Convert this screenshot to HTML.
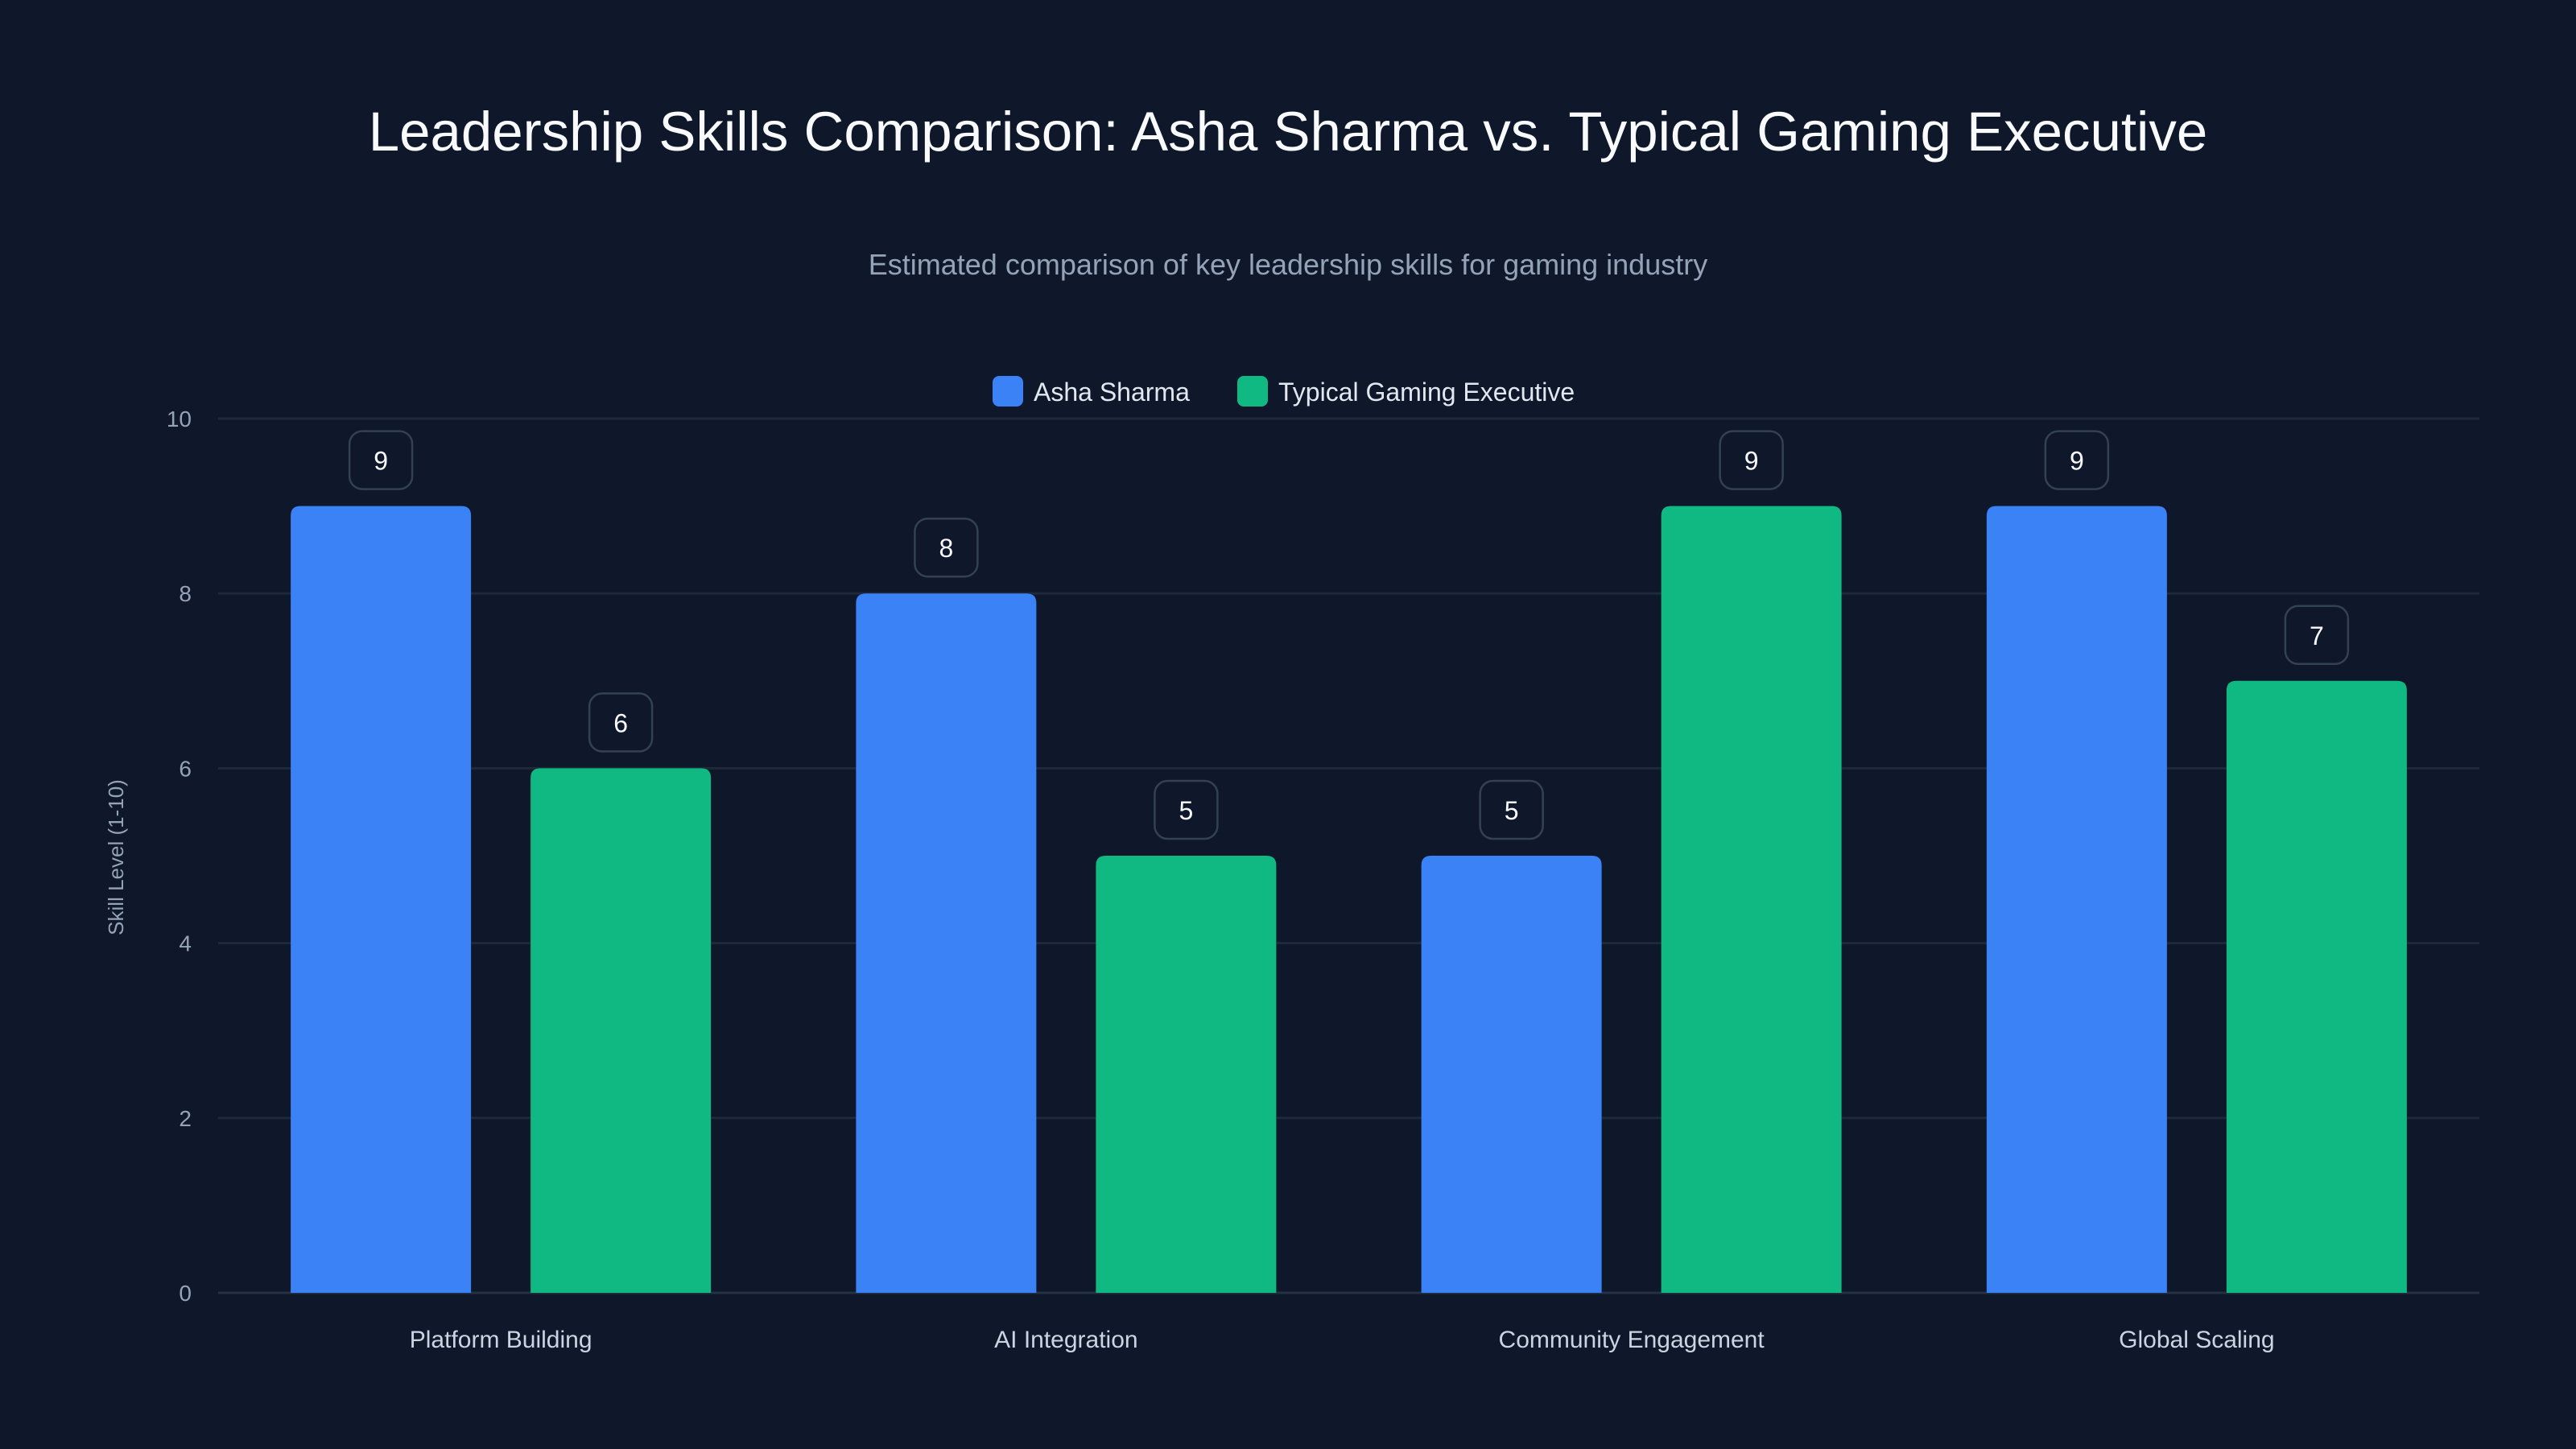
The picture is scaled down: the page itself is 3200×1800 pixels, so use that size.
<!DOCTYPE html>
<html><head><meta charset="utf-8"><style>
html,body{margin:0;padding:0;background:#0f172a;}
svg{display:block;font-family:"Liberation Sans",sans-serif;}
</style></head><body>
<svg id="chart" width="3200" height="1800" viewBox="0 0 3200 1800">
<rect width="3200" height="1800" fill="#0f172a"/>
<text x="1600" y="187" text-anchor="middle" font-size="69" fill="#f8fafc">Leadership Skills Comparison: Asha Sharma vs. Typical Gaming Executive</text>
<text x="1600" y="341" text-anchor="middle" font-size="36" fill="#94a3b8">Estimated comparison of key leadership skills for gaming industry</text>
<g>
<g><rect x="1233" y="467" width="38" height="38" rx="8" fill="#3b82f6"/><text x="1284" y="498" font-size="32" fill="#e2e8f0">Asha Sharma</text></g>
<g><rect x="1537" y="467" width="38" height="38" rx="8" fill="#10b981"/><text x="1588" y="498" font-size="32" fill="#e2e8f0">Typical Gaming Executive</text></g>
</g>
<text transform="translate(153,1065) rotate(-90)" text-anchor="middle" font-size="26" fill="#94a3b8">Skill Level (1-10)</text>
<g id="grid"></g><g id="bars"></g>
</svg>
<script>
const categories=["Platform Building","AI Integration","Community Engagement","Global Scaling"];
const ashaValues=[9,8,5,9];
const typicalValues=[6,5,9,7];
const yTicks=[0,2,4,6,8,10];
const NS="http://www.w3.org/2000/svg";
const x0=271,x1=3080,y0=1606,y1=520,yMax=10;
const yScale=v=>y0-(v/yMax)*(y0-y1);
const groupW=(x1-x0)/categories.length;
const barW=224,gap=74;
function mk(tag,attrs,parent){const e=document.createElementNS(NS,tag);for(const k in attrs)e.setAttribute(k,attrs[k]);parent.appendChild(e);return e;}
const grid=document.getElementById('grid'),bars=document.getElementById('bars');
yTicks.forEach(t=>{
 const y=yScale(t);
 const l=mk('line',{x1:x0,x2:x1,y1:y,y2:y,stroke:t===0?'#243044':'#1e293b','stroke-width':3},grid);
 
 
 const tx=mk('text',{x:238,y:y+10,'text-anchor':'end','font-size':28,fill:'#94a3b8'},grid);
 tx.textContent=t;
 
 
});
categories.forEach((c,i)=>{
 const cx=x0+groupW*(i+0.5);
 [[ashaValues[i],'#3b82f6',cx-gap/2-barW,'asha'],[typicalValues[i],'#10b981',cx+gap/2,'typical']].forEach(([v,col,bx,s])=>{
  const top=yScale(v),r=12;
  const p=mk('path',{d:`M${bx},${y0}V${top+r}Q${bx},${top} ${bx+r},${top}H${bx+barW-r}Q${bx+barW},${top} ${bx+barW},${top+r}V${y0}Z`,fill:col},bars);
  
  
  const mx=bx+barW/2;
  const b=mk('rect',{x:mx-39,y:top-93,width:78,height:72,rx:16,fill:'#0f172a',stroke:'#334155','stroke-width':2.5},bars);
  
  
  const t=mk('text',{x:mx,y:top-45,'text-anchor':'middle','font-size':32,fill:'#f8fafc'},bars);
  t.textContent=v;
  
  
 });
 const lt=mk('text',{x:cx,y:1674,'text-anchor':'middle','font-size':30,fill:'#cbd5e1'},bars);
 lt.textContent=c;
 
 
});
</script>
</body></html>
